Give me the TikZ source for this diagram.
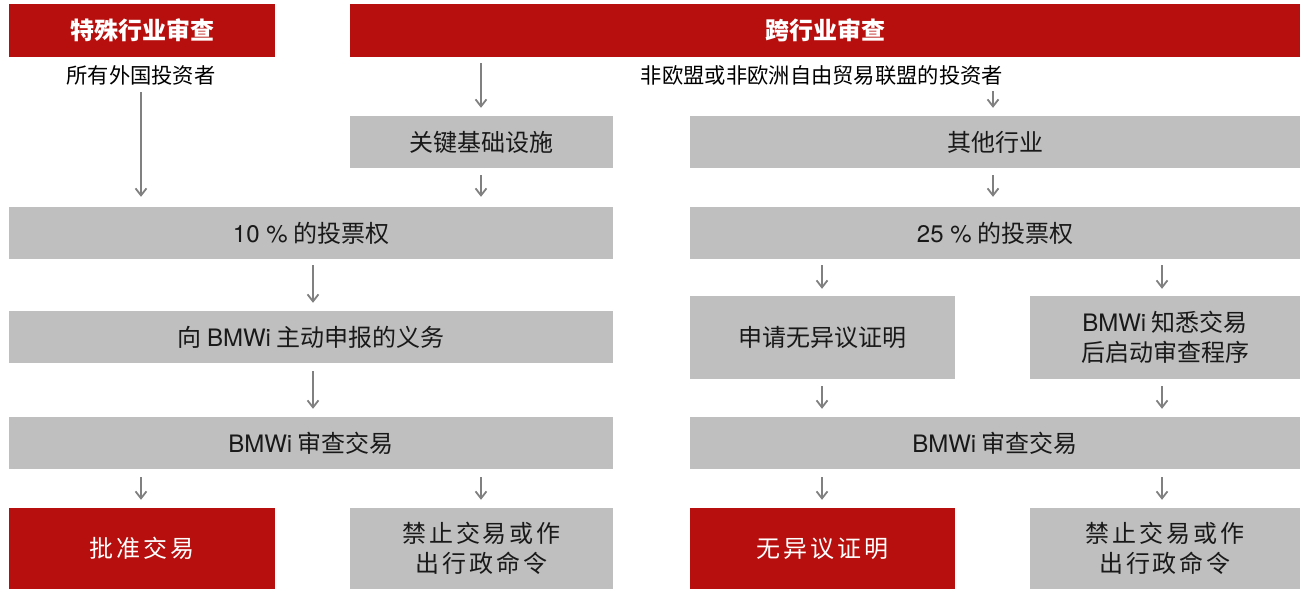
\documentclass[tikz,border=0pt]{standalone}
\usepackage{fontspec}
\setmainfont{Noto Sans CJK SC}
\newfontfamily\lat{TeX Gyre Heros}
\newfontfamily\cjkwide{Noto Sans CJK SC}[LetterSpace=12]
\usetikzlibrary{arrows.meta}
\definecolor{hdred}{RGB}{183,15,13}
\definecolor{boxgray}{RGB}{191,191,191}
\definecolor{arrgray}{RGB}{128,128,128}
\tikzset{
  redhead/.style={fill=hdred, text=white, font=\fontsize{24}{28}\selectfont\bfseries, inner sep=0pt, minimum height=53pt},
  graybox/.style={fill=boxgray, text=black!90, font=\fontsize{24}{30}\selectfont, inner sep=0pt, align=center},
  redbox/.style={fill=hdred, text=white, font=\fontsize{24}{30}\selectfont, inner sep=0pt, align=center},
  lab/.style={font=\fontsize{21.3}{24}\selectfont, inner sep=0pt},
  arr/.style={draw=arrgray, line width=1.8pt, -{Straight Barb[length=7pt,width=11pt,line width=1.8pt]}},
}
\begin{document}
\begin{tikzpicture}[x=1pt,y=-1pt]
\useasboundingbox (0,0) rectangle (1300,589);
% headers
\node[redhead, minimum width=266pt] (h1) at (142,30.5) {特殊行业审查};
\node[redhead, minimum width=950pt] (h2) at (825,30.5) {跨行业审查};
% labels
\node[lab] (l1) at (141,75) {所有外国投资者};
\node[lab] (l2) at (822,75) {非欧盟或非欧洲自由贸易联盟的投资者};
% left column
\node[graybox, minimum width=263pt, minimum height=52pt] (infra) at (481.5,142) {关键基础设施};
\node[graybox, minimum width=604pt, minimum height=52pt] (v10) at (311,233) {{\lat 10 \%} 的投票权};
\node[graybox, minimum width=604pt, minimum height=52pt] (notify) at (311,337) {向 {\lat BMWi} 主动申报的义务};
\node[graybox, minimum width=604pt, minimum height=52pt] (revL) at (311,443) {{\lat BMWi} 审查交易};
\node[redbox, minimum width=266pt, minimum height=81pt] (appr) at (142,548.5) {\cjkwide 批准交易};
\node[graybox, minimum width=263pt, minimum height=81pt] (banL) at (481.5,548.5) {\cjkwide 禁止交易或作\\\cjkwide 出行政命令};
% right column
\node[graybox, minimum width=610pt, minimum height=52pt] (other) at (995,142) {其他行业};
\node[graybox, minimum width=610pt, minimum height=52pt] (v25) at (995,233) {{\lat 25 \%} 的投票权};
\node[graybox, minimum width=265pt, minimum height=83pt] (apply) at (822.5,337.5) {申请无异议证明};
\node[graybox, minimum width=270pt, minimum height=83pt] (knows) at (1165,337.5) {{\lat BMWi} 知悉交易\\后启动审查程序};
\node[graybox, minimum width=610pt, minimum height=52pt] (revR) at (995,443) {{\lat BMWi} 审查交易};
\node[redbox, minimum width=265pt, minimum height=81pt] (cert) at (822.5,548.5) {\cjkwide 无异议证明};
\node[graybox, minimum width=270pt, minimum height=81pt] (banR) at (1165,548.5) {\cjkwide 禁止交易或作\\\cjkwide 出行政命令};
% arrow coordinates
\coordinate (xa) at (141,0);
\coordinate (xb) at (481,0);
\coordinate (xc) at (993,0);
\coordinate (xd) at (313,0);
\coordinate (xe) at (822,0);
\coordinate (xf) at (1162,0);
% arrows
\draw[arr, shorten <=7pt, shorten >=10pt] (l1.south) -- (v10.north -| xa);
\draw[arr, shorten <=6pt, shorten >=8pt] (h2.south -| xb) -- (infra.north -| xb);
\draw[arr, shorten <=6pt, shorten >=8pt] (l2.south -| xc) -- (other.north -| xc);
\draw[arr, shorten <=7pt, shorten >=10pt] (infra.south -| xb) -- (v10.north -| xb);
\draw[arr, shorten <=7pt, shorten >=10pt] (other.south -| xc) -- (v25.north -| xc);
\draw[arr, shorten <=6pt, shorten >=8pt] (v10.south -| xd) -- (notify.north -| xd);
\draw[arr, shorten <=8pt, shorten >=8pt] (notify.south -| xd) -- (revL.north -| xd);
\draw[arr, shorten <=8pt, shorten >=8pt] (revL.south -| xa) -- (appr.north -| xa);
\draw[arr, shorten <=8pt, shorten >=8pt] (revL.south -| xb) -- (banL.north -| xb);
\draw[arr, shorten <=6pt, shorten >=7pt] (v25.south -| xe) -- (apply.north -| xe);
\draw[arr, shorten <=6pt, shorten >=7pt] (v25.south -| xf) -- (knows.north -| xf);
\draw[arr, shorten <=7pt, shorten >=8pt] (apply.south -| xe) -- (revR.north -| xe);
\draw[arr, shorten <=7pt, shorten >=8pt] (knows.south -| xf) -- (revR.north -| xf);
\draw[arr, shorten <=8pt, shorten >=8pt] (revR.south -| xe) -- (cert.north -| xe);
\draw[arr, shorten <=8pt, shorten >=8pt] (revR.south -| xf) -- (banR.north -| xf);
\end{tikzpicture}
\end{document}
